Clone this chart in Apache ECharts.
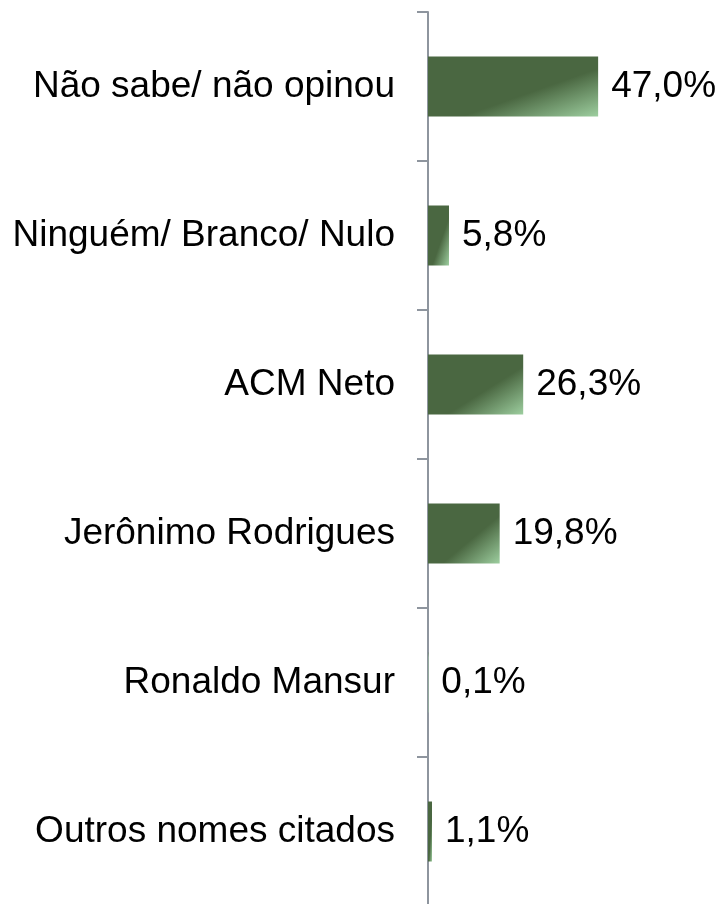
<!DOCTYPE html>
<html>
<head>
<meta charset="utf-8">
<script src="https://cdn.jsdelivr.net/npm/echarts@6/dist/echarts.min.js"></script>
<style>
  html, body { margin: 0; padding: 0; background: #fff; }
  #chart { width: 724px; height: 904px; }
</style>
</head>
<body>
<div id="chart"></div>
<script>
const categories = ['Não sabe/ não opinou', 'Ninguém/ Branco/ Nulo', 'ACM Neto', 'Jerônimo Rodrigues', 'Ronaldo Mansur', 'Outros nomes citados']
const values = [47.0, 5.8, 26.3, 19.8, 0.1, 1.1]

const chart = echarts.init(document.getElementById('chart'))

const gridWidth = 362
const axisMax = 100
const barH = 60

// gradiente diagonal: linhas de cor paralelas à diagonal da barra (como no Excel)
function barColor(v) {
    const w = Math.max(v * gridWidth / axisMax, 1)
    const s = barH * barH + w * w
    return new echarts.graphic.LinearGradient(0, 0, 2 * barH * barH / s, 2 * w * w / s, [
        { offset: 0, color: '#4a6741' },
        { offset: 0.6, color: '#4a6741' },
        { offset: 1, color: '#9dce9f' }
    ])
}

const option = {
    animation: false,
    backgroundColor: '#ffffff',
    grid: { left: 428, top: 12, width: gridWidth, height: 894, outerBoundsMode: 'none' },
    xAxis: {
        type: 'value',
        min: 0,
        max: axisMax,
        show: false
    },
    yAxis: {
        type: 'category',
        inverse: true,
        data: categories,
        axisLine: { show: true, lineStyle: { color: '#8e959e', width: 2 } },
        axisTick: { show: true, length: 11, lineStyle: { color: '#8e959e', width: 2 } },
        axisLabel: {
            margin: 33,
            fontFamily: 'Liberation Sans, Arial, sans-serif',
            fontSize: 37,
            color: '#000'
        }
    },
    series: [{
        type: 'bar',
        data: values.map(v => ({ value: v, itemStyle: { color: barColor(v) } })),
        barWidth: barH,
        label: {
            show: true,
            position: 'right',
            distance: 13,
            fontFamily: 'Liberation Sans, Arial, sans-serif',
            fontSize: 37,
            color: '#000',
            formatter: p => p.value.toFixed(1).replace('.', ',') + '%'
        }
    }]
}

chart.setOption(option)
</script>
</body>
</html>
